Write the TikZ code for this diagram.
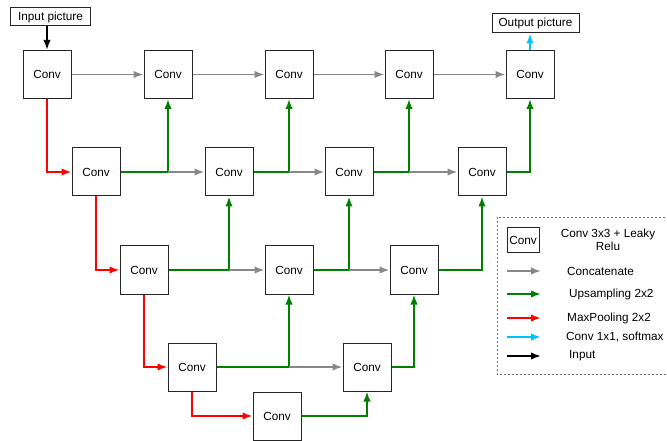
\documentclass[tikz,border=0pt]{standalone}
\usepackage{fontspec}
\setmainfont{Liberation Sans}
\usetikzlibrary{arrows.meta}
\definecolor{catgray}{RGB}{135,135,135}
\definecolor{upgreen}{RGB}{0,128,0}
\definecolor{poolred}{RGB}{255,0,0}
\definecolor{softcyan}{RGB}{0,195,255}
\begin{document}
\begin{tikzpicture}[x=1bp,y=-1bp,
  txt/.style={font=\fontsize{11.8}{13}\selectfont},
  convbox/.style={txt, draw=black!85, line width=1bp, fill=white,
    minimum width=48bp, minimum height=48bp, inner sep=0pt},
  iobox/.style={txt, draw=black!85, line width=1bp, inner sep=0pt},
  conn/.style={line width=1.9bp, -{Latex[length=10bp,width=7.5bp]}},
  cat/.style={conn, draw=catgray},
  up/.style={conn, draw=upgreen},
  pool/.style={conn, draw=poolred},
  soft/.style={conn, draw=softcyan},
  inp/.style={conn, draw=black},
  legtext/.style={txt, anchor=west, inner sep=0pt}
]
\useasboundingbox (0,0) rectangle (667,441);

% encoder / decoder blocks
\node[convbox] (c00) at (47,74.5) {Conv};
\node[convbox] (c01) at (168,74.5) {Conv};
\node[convbox] (c02) at (289,74.5) {Conv};
\node[convbox] (c03) at (409,74.5) {Conv};
\node[convbox] (c04) at (530,74.5) {Conv};

\node[convbox] (c10) at (96,172) {Conv};
\node[convbox] (c11) at (229,172) {Conv};
\node[convbox] (c12) at (349,172) {Conv};
\node[convbox] (c13) at (482,172) {Conv};

\node[convbox] (c20) at (144,270) {Conv};
\node[convbox] (c21) at (289,270) {Conv};
\node[convbox] (c22) at (414,270) {Conv};

\node[convbox] (c30) at (192,367) {Conv};
\node[convbox] (c31) at (367,367) {Conv};

\node[convbox] (c40) at (277,416) {Conv};

% input and output
\node[iobox, minimum width=79bp, minimum height=18bp] (inpic) at (50.5,17) {Input picture};
\node[iobox, minimum width=87bp, minimum height=19bp] (outpic) at (535.5,23.5) {Output picture};
\draw[inp] (inpic.south -| c00) -- (c00.north);
\draw[soft] (c04.north) -- (outpic.south -| c04);

% top row concatenations
\draw[cat] (c00) -- (c01);
\draw[cat] (c01) -- (c02);
\draw[cat] (c02) -- (c03);
\draw[cat] (c03) -- (c04);

% max pooling
\draw[pool] (c00.south) |- (c10.west);
\draw[pool] (c10.south) |- (c20.west);
\draw[pool] (c20.south) |- (c30.west);
\draw[pool] (c30.south) |- (c40.west);

% row 1: upsampling + concatenation
\draw[up] (c10.east) -| (c01.south);
\draw[cat] (c10.east -| c01.south) -- (c11.west);
\draw[up] (c11.east) -| (c02.south);
\draw[cat] (c11.east -| c02.south) -- (c12.west);
\draw[up] (c12.east) -| (c03.south);
\draw[cat] (c12.east -| c03.south) -- (c13.west);
\draw[up] (c13.east) -| (c04.south);

% row 2
\draw[up] (c20.east) -| (c11.south);
\draw[cat] (c20.east -| c11.south) -- (c21.west);
\draw[up] (c21.east) -| (c12.south);
\draw[cat] (c21.east -| c12.south) -- (c22.west);
\draw[up] (c22.east) -| (c13.south);

% row 3
\draw[up] (c30.east) -| (c21.south);
\draw[cat] (c30.east -| c21.south) -- (c31.west);
\draw[up] (c31.east) -| (c22.south);

% row 4
\draw[up] (c40.east) -| (c31.south);

% legend
\draw[draw=black!55, line width=0.8bp, dash pattern=on 2bp off 2bp] (497,217) rectangle (700,374);
\node[convbox, minimum width=32bp, minimum height=25bp] (lconv) at (523,240.5) {Conv};
\node[txt, align=center, inner sep=0pt] (lconvt) at (608,240) {Conv 3x3 + Leaky\\Relu};

\coordinate (la1) at (507,271); \coordinate (lb1) at (541,271);
\draw[cat] (la1) -- (lb1);
\node[legtext] (lt1) at (567,271) {Concatenate};

\coordinate (la2) at (507,294); \coordinate (lb2) at (541,294);
\draw[up] (la2) -- (lb2);
\node[legtext] (lt2) at (569,294) {Upsampling 2x2};

\coordinate (la3) at (507,318); \coordinate (lb3) at (541,318);
\draw[pool] (la3) -- (lb3);
\node[legtext] (lt3) at (567,318) {MaxPooling 2x2};

\coordinate (la4) at (507,337); \coordinate (lb4) at (541,337);
\draw[soft] (la4) -- (lb4);
\node[legtext] (lt4) at (566,337) {Conv 1x1, softmax};

\coordinate (la5) at (507,356); \coordinate (lb5) at (541,356);
\draw[inp] (la5) -- (lb5);
\node[legtext] (lt5) at (569,356) {Input};
\end{tikzpicture}
\end{document}
